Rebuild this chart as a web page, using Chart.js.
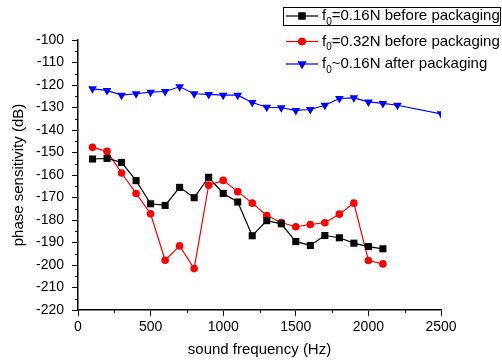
<!DOCTYPE html>
<html>
<head>
<meta charset="utf-8">
<script src="https://cdn.jsdelivr.net/npm/chart.js@4/dist/chart.umd.min.js"></script>
<style>
  html, body { margin: 0; padding: 0; background: #fff; }
  #wrap { width: 502px; height: 363px; }
</style>
</head>
<body>
<div id="wrap"><canvas id="chart" width="502" height="363"></canvas></div>
<script>
/* phase sensitivity vs sound frequency */

const freqBefore = [100, 200, 300, 400, 500, 600, 700, 800, 900, 1000, 1100,
  1200, 1300, 1400, 1500, 1600, 1700, 1800, 1900, 2000, 2100];
const freqAfter = [100, 200, 300, 400, 500, 600, 700, 800, 900, 1000, 1100,
  1200, 1300, 1400, 1500, 1600, 1700, 1800, 1900, 2000, 2100, 2200, 2500];

const sens016Before = [-152.9, -152.6, -154.4, -162.5, -172.8, -173.5, -165.5, -170.1, -161.0, -168.2, -172.0,
  -187.0, -180.3, -181.7, -189.6, -191.3, -186.9, -187.9, -190.3, -191.8, -192.8];
const sens032Before = [-147.7, -149.5, -159.1, -168.2, -177.2, -197.9, -191.5, -201.6, -164.5, -162.4, -167.4,
  -172.5, -178.0, -181.1, -183.0, -182.0, -181.2, -177.4, -172.5, -198.0, -199.5];
const sens016After = [-121.7, -122.4, -124.5, -123.9, -123.2, -122.9, -120.8, -123.9, -124.2, -124.5, -124.5,
  -127.8, -129.9, -130.1, -131.3, -130.9, -129.0, -126.0, -125.7, -127.5, -128.2, -129.0, -132.8];

const xTicks = [0, 500, 1000, 1500, 2000, 2500];
const yTicks = [-220, -210, -200, -190, -180, -170, -160, -150, -140, -130, -120, -110, -100];

const seriesNames = ['=0.16N before packaging', '=0.32N before packaging', '~0.16N after packaging'];
const seriesColors = ['#000000', '#ff0000', '#0000ff'];
const seriesMarkers = ['rect', 'circle', 'triangle'];

const FONT = '"Liberation Sans", Arial, sans-serif';

function pts(xs, ys) {
  return xs.map((x, i) => ({ x, y: ys[i] }));
}

// minor ticks half way between the major ones
const minorTicks = {
  id: 'minorTicks',
  afterDraw(chart) {
    const ctx = chart.ctx;
    const xs = chart.scales.x, ys = chart.scales.y;
    const area = chart.chartArea;
    ctx.save();
    ctx.strokeStyle = '#000';
    ctx.lineWidth = 1;
    for (let i = 0; i < yTicks.length - 1; i++) {
      const py = Math.round(ys.getPixelForValue((yTicks[i] + yTicks[i + 1]) / 2)) + 0.5;
      ctx.beginPath();
      ctx.moveTo(area.left - 3, py);
      ctx.lineTo(area.left, py);
      ctx.stroke();
    }
    for (let i = 0; i < xTicks.length - 1; i++) {
      const px = Math.round(xs.getPixelForValue((xTicks[i] + xTicks[i + 1]) / 2)) + 0.5;
      ctx.beginPath();
      ctx.moveTo(px, area.bottom);
      ctx.lineTo(px, area.bottom + 3);
      ctx.stroke();
    }
    ctx.restore();
  }
};

// Origin style legend with subscript f0
const originLegend = {
  id: 'originLegend',
  afterDraw(chart) {
    const ctx = chart.ctx;
    const rows = [16, 41.5, 64];
    ctx.save();
    ctx.strokeStyle = '#000';
    ctx.lineWidth = 1;
    ctx.strokeRect(283.5, 7.5, 217, 18);
    rows.forEach((y, i) => {
      const ds = chart.data.datasets[i];
      ctx.strokeStyle = seriesColors[i];
      ctx.lineWidth = 1.2;
      ctx.beginPath();
      ctx.moveTo(286, y);
      ctx.lineTo(318, y);
      ctx.stroke();
      ctx.fillStyle = seriesColors[i];
      Chart.helpers.drawPoint(ctx, {
        pointStyle: seriesMarkers[i],
        radius: ds.pointRadius,
        rotation: ds.pointRotation || 0,
        borderWidth: 0
      }, 302, y);
      ctx.fill();
      ctx.fillStyle = '#000';
      ctx.textBaseline = 'middle';
      ctx.textAlign = 'left';
      ctx.font = '15px ' + FONT;
      ctx.fillText('f', 322, y);
      const fw = ctx.measureText('f').width;
      ctx.font = '10px ' + FONT;
      ctx.fillText('0', 322 + fw, y + 6);
      const sw = ctx.measureText('0').width;
      ctx.font = '15px ' + FONT;
      ctx.fillText(seriesNames[i], 322 + fw + sw, y);
    });
    ctx.restore();
  }
};

new Chart(document.getElementById('chart'), {
  type: 'line',
  data: {
    datasets: [
      {
        label: 'f0=0.16N before packaging',
        data: pts(freqBefore, sens016Before),
        borderColor: seriesColors[0], backgroundColor: seriesColors[0],
        borderWidth: 1.2, pointStyle: 'rect', pointRadius: 5, pointBorderWidth: 0,
        tension: 0
      },
      {
        label: 'f0=0.32N before packaging',
        data: pts(freqBefore, sens032Before),
        borderColor: seriesColors[1], backgroundColor: seriesColors[1],
        borderWidth: 1.2, pointStyle: 'circle', pointRadius: 3.8, pointBorderWidth: 0,
        tension: 0
      },
      {
        label: 'f0~0.16N after packaging',
        data: pts(freqAfter, sens016After),
        borderColor: seriesColors[2], backgroundColor: seriesColors[2],
        borderWidth: 1.2, pointStyle: 'triangle', pointRotation: 180, pointRadius: 5, pointBorderWidth: 0,
        tension: 0
      }
    ]
  },
  options: {
    responsive: false,
    animation: false,
    layout: { padding: { left: 0, top: 40, right: 61, bottom: 0 } },
    plugins: {
      legend: { display: false },
      tooltip: { enabled: false }
    },
    scales: {
      x: {
        type: 'linear', min: 0, max: 2500,
        afterBuildTicks: s => { s.ticks = xTicks.map(v => ({ value: v })); },
        afterFit: s => { s.height = 53; },
        border: { color: '#000', width: 1.5 },
        grid: { drawOnChartArea: false, tickLength: 6, color: '#000', tickWidth: 1 },
        ticks: { color: '#000', font: { family: FONT, size: 14 }, padding: 3, maxRotation: 0,
          callback: v => String(v) },
        title: { display: true, text: 'sound frequency (Hz)', color: '#000',
          font: { family: FONT, size: 15 }, padding: { top: 4, bottom: 4 } }
      },
      y: {
        type: 'linear', min: -220, max: -100,
        afterBuildTicks: s => { s.ticks = yTicks.map(v => ({ value: v })); },
        afterFit: s => { s.width = 78; },
        border: { color: '#000', width: 1.5 },
        grid: { drawOnChartArea: false, tickLength: 6, color: '#000', tickWidth: 1 },
        ticks: { color: '#000', font: { family: FONT, size: 14 }, padding: 8,
          callback: v => String(v) },
        title: { display: true, text: 'phase sensitivity (dB)', color: '#000',
          font: { family: FONT, size: 15 }, padding: { top: 10, bottom: 4 } }
      }
    }
  },
  plugins: [minorTicks, originLegend]
});
</script>
</body>
</html>
